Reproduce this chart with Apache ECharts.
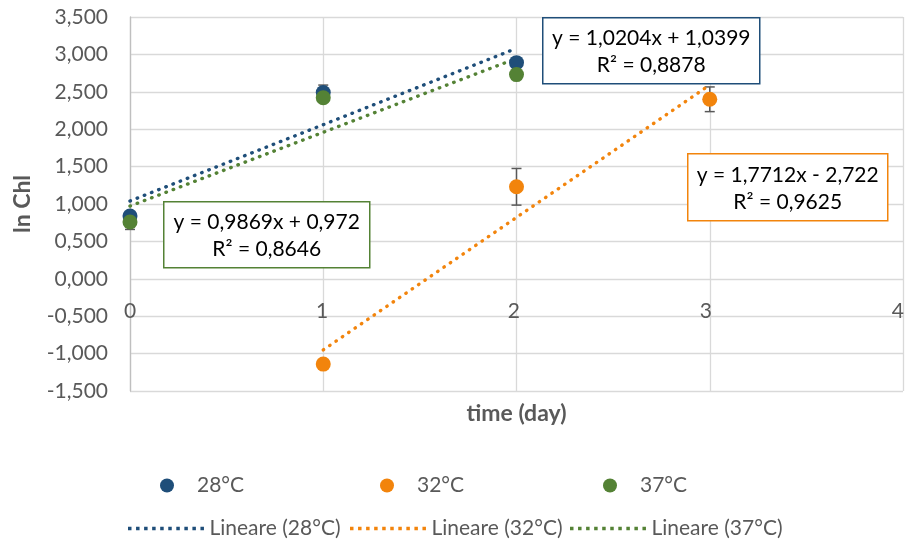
<!DOCTYPE html>
<html>
<head>
<meta charset="utf-8">
<title>ln Chl over time</title>
<script src="https://cdn.jsdelivr.net/npm/echarts@6/dist/echarts.min.js"></script>
<style>
  html, body { margin: 0; padding: 0; background: #ffffff; }
  #chart { width: 907px; height: 545px; }
</style>
</head>
<body>
<div id="chart"></div>
<script>
// Measured ln Chl per temperature (day, mean, error)
const days28 = [0, 1, 2];
const values28 = [0.84, 2.49, 2.89];
const errors28 = [0.05, 0.10, 0.04];

const days32 = [1, 2, 3];
const values32 = [-1.14, 1.23, 2.40];
const errors32 = [0.03, 0.245, 0.165];

const days37 = [0, 1, 2];
const values37 = [0.76, 2.42, 2.73];
const errors37 = [0.10, 0.05, 0.03];

// Linear trend fits (slope, intercept, R²) and the day range each covers
const seriesNames = ['28°C', '32°C', '37°C'];
const trendSlopes = [1.0204, 1.7712, 0.9869];
const trendIntercepts = [1.0399, -2.722, 0.972];
const trendR2 = [0.8878, 0.9625, 0.8646];
const trendRanges = [[0, 2], [1, 3], [0, 2]];

// Axis ticks
const yTicks = [-1.5, -1.0, -0.5, 0, 0.5, 1.0, 1.5, 2.0, 2.5, 3.0, 3.5];
const xTicks = [0, 1, 2, 3, 4];

const colors = ['#1F4E79', '#F2840C', '#548235'];
const FONT = 'Lato, "Liberation Sans", sans-serif';
const GREY_TEXT = '#595959';
const GRID_LINE = '#D9D9D9';

const pointSets = [
  { days: days28, values: values28, errors: errors28 },
  { days: days32, values: values32, errors: errors32 },
  { days: days37, values: values37, errors: errors37 }
];

function comma(v) { return String(v).replace('.', ','); }
function equationText(i) {
  const b = trendIntercepts[i];
  const sign = b < 0 ? ' - ' : ' + ';
  return 'y = ' + comma(trendSlopes[i]) + 'x' + sign + comma(Math.abs(b)) +
         '\nR² = ' + comma(trendR2[i]);
}

// Dotted-line legend icon: a row of square dots, one unit tall
function dottedIcon(count, step) {
  let p = 'path://';
  for (let k = 0; k < count; k++) {
    const x = (k * step).toFixed(2);
    p += 'M' + x + ',0h1v1h-1z';
  }
  return p;
}

function errorBarRenderer() {
  return function (params, api) {
    const x = api.value(0);
    const top = api.coord([x, api.value(2)]);
    const bottom = api.coord([x, api.value(1)]);
    const cap = 5;
    const style = { stroke: '#595959', lineWidth: 1.5, fill: null };
    return {
      type: 'group',
      children: [
        { type: 'line', shape: { x1: top[0], y1: top[1], x2: bottom[0], y2: bottom[1] }, style },
        { type: 'line', shape: { x1: top[0] - cap, y1: top[1], x2: top[0] + cap, y2: top[1] }, style },
        { type: 'line', shape: { x1: bottom[0] - cap, y1: bottom[1], x2: bottom[0] + cap, y2: bottom[1] }, style }
      ]
    };
  };
}

const series = [];
pointSets.forEach(function (set, i) {
  series.push({
    type: 'custom',
    name: seriesNames[i] + ' err',
    renderItem: errorBarRenderer(),
    data: set.days.map(function (d, k) {
      return [d, set.values[k] - set.errors[k], set.values[k] + set.errors[k]];
    }),
    encode: { x: 0, y: [1, 2] },
    z: 2,
    silent: true
  });
});
pointSets.forEach(function (set, i) {
  // trend line drawn from the fitted equation
  const r = trendRanges[i];
  series.push({
    type: 'line',
    name: 'Lineare (' + seriesNames[i] + ')',
    data: r.map(function (d) { return [d, trendSlopes[i] * d + trendIntercepts[i]]; }),
    symbol: 'none',
    lineStyle: { color: colors[i], width: 3.4, type: [0.5, 7.2], cap: 'round' },
    itemStyle: { color: colors[i] },
    z: 3,
    silent: true
  });
});
pointSets.forEach(function (set, i) {
  series.push({
    type: 'scatter',
    name: seriesNames[i],
    data: set.days.map(function (d, k) { return [d, set.values[k]]; }),
    symbol: 'circle',
    symbolSize: 15,
    itemStyle: { color: colors[i], opacity: 1 },
    z: 4
  });
});

// Legends: one entry each, placed in two rows
const legends = [];
const markerLefts = [160, 380, 603];
seriesNames.forEach(function (n, i) {
  legends.push({
    data: [n], left: markerLefts[i], top: 475, padding: 0,
    icon: 'circle', itemWidth: 14, itemHeight: 14,
    textStyle: { fontFamily: FONT, fontSize: 21, color: GREY_TEXT, padding: [0, 0, 0, 18] },
    selectedMode: false
  });
});
const lineLefts = [128, 350, 570];
seriesNames.forEach(function (n, i) {
  legends.push({
    data: ['Lineare (' + n + ')'], left: lineLefts[i], top: 518, padding: 0,
    icon: dottedIcon(10, 2.3), itemWidth: 77, itemHeight: 3.5,
    itemStyle: { color: colors[i] },
    textStyle: { fontFamily: FONT, fontSize: 21, color: GREY_TEXT },
    selectedMode: false
  });
});

// Equation boxes
const boxes = [
  { left: 542, top: 17, width: 217, height: 66 },
  { left: 687, top: 153, width: 200, height: 67 },
  { left: 163, top: 201, width: 206, height: 66 }
];
const graphic = boxes.map(function (b, i) {
  return {
    type: 'group', left: b.left, top: b.top,
    children: [
      { type: 'rect', shape: { x: 0, y: 0, width: b.width, height: b.height },
        style: { fill: '#ffffff', stroke: colors[i], lineWidth: 1.5 }, z: 10 },
      { type: 'text', x: b.width / 2, y: b.height / 2 + 1,
        style: { text: equationText(i), fill: '#000000', font: '21px ' + FONT,
                 align: 'center', verticalAlign: 'middle', lineHeight: 27 }, z: 11 }
    ]
  };
});

const plotLeft = 130, plotRight = 4, plotTop = 17, plotBottom = 154;
// pixel height of the band from the top of the plot down to y = 0
const zeroBandHeight = (545 - plotTop - plotBottom) * (yTicks[yTicks.length - 1] - 0) /
                       (yTicks[yTicks.length - 1] - yTicks[0]);

const chart = echarts.init(document.getElementById('chart'), null, { renderer: 'canvas' });
chart.setOption({
  animation: false,
  backgroundColor: '#ffffff',
  grid: [
    { left: plotLeft, right: plotRight, top: plotTop, bottom: plotBottom },
    // label band whose lower edge sits on y = 0, carrying the day labels
    { left: plotLeft, right: plotRight, top: plotTop, height: zeroBandHeight }
  ],
  xAxis: [
    {
      type: 'value', gridIndex: 0, min: xTicks[0], max: xTicks[xTicks.length - 1], interval: 1,
      axisLine: { show: false },
      axisTick: { show: false },
      axisLabel: { show: false },
      splitLine: { show: true, lineStyle: { color: GRID_LINE, width: 1.3 } },
      name: 'time (day)', nameLocation: 'middle', nameGap: 11,
      nameTextStyle: { fontFamily: FONT, fontSize: 23, fontWeight: 'bold', color: GREY_TEXT }
    },
    {
      type: 'value', gridIndex: 1, min: xTicks[0], max: xTicks[xTicks.length - 1], interval: 1,
      axisLine: { show: false },
      axisTick: { show: false },
      splitLine: { show: false },
      axisLabel: { fontFamily: FONT, fontSize: 21, color: GREY_TEXT, margin: 22,
                   showMaxLabel: true, showMinLabel: true, hideOverlap: false }
    }
  ],
  yAxis: [
    {
      type: 'value', gridIndex: 0, min: yTicks[0], max: yTicks[yTicks.length - 1], interval: 0.5,
      axisLine: { show: true, onZero: false, lineStyle: { color: '#BFBFBF', width: 1.3 } },
      axisTick: { show: false },
      axisLabel: { fontFamily: FONT, fontSize: 21, color: GREY_TEXT, margin: 22,
                   formatter: function (v) { return v.toFixed(3).replace('.', ','); } },
      splitLine: { show: true, lineStyle: { color: GRID_LINE, width: 1.3 } },
      name: 'ln Chl', nameLocation: 'middle', nameGap: 96,
      nameTextStyle: { fontFamily: FONT, fontSize: 23, fontWeight: 'bold', color: GREY_TEXT }
    },
    {
      type: 'value', gridIndex: 1, min: 0, max: 1, show: false
    }
  ],
  legend: legends,
  graphic: graphic,
  series: series
});
</script>
</body>
</html>
